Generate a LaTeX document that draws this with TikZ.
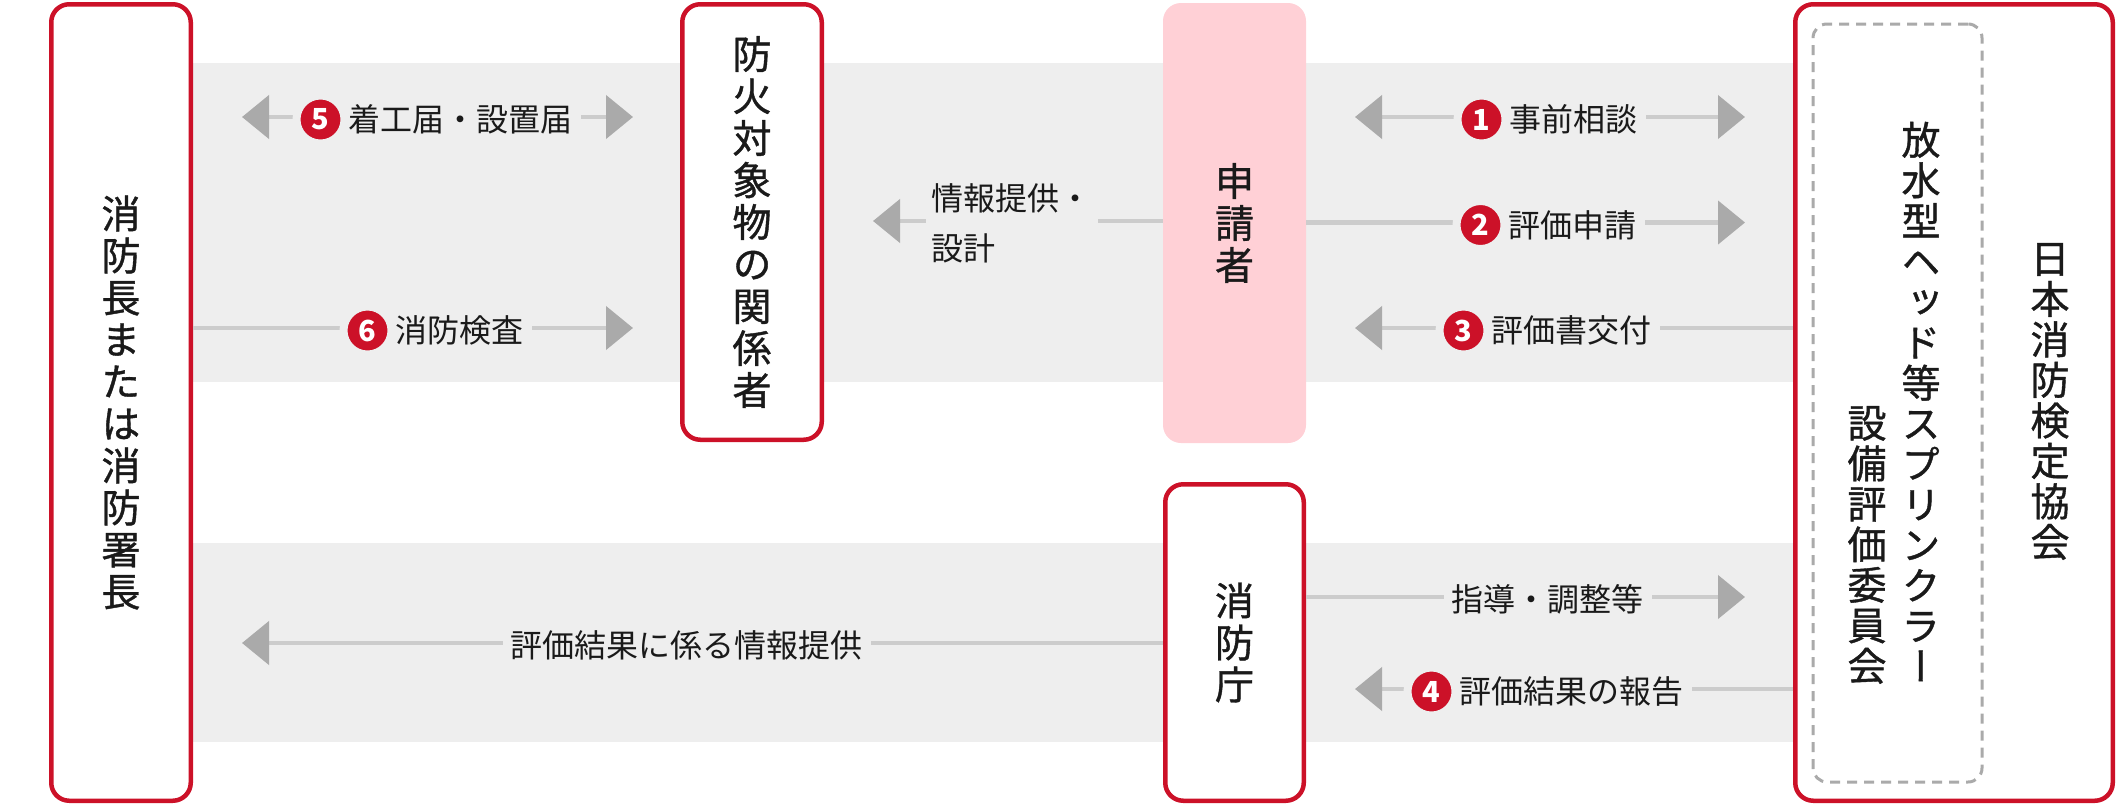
\documentclass[tikz,border=0pt]{standalone}
\usepackage{fontspec}
\setmainfont{Noto Sans CJK JP}
\newfontfamily\vjp[RawFeature=+vert, FakeBold=1]{Noto Sans CJK JP}
\usetikzlibrary{arrows.meta}
\definecolor{jred}{HTML}{CC1128}
\definecolor{jpink}{HTML}{FFD0D6}
\definecolor{band}{HTML}{EEEEEE}
\definecolor{linegray}{HTML}{CCCCCC}
\definecolor{headgray}{HTML}{AAAAAA}
\definecolor{txt}{HTML}{1A1A1A}
\tikzset{
  redbox/.style={draw=jred, line width=4.5pt, fill=white, rounded corners=18pt, inner sep=0pt},
  pinkbox/.style={fill=jpink, rounded corners=18pt, inner sep=0pt},
  dashbox/.style={draw=headgray, line width=3pt, dash pattern=on 10pt off 7pt, rounded corners=14pt, inner sep=0pt},
  vtext/.style={align=center, text=txt, font=\vjp\fontsize{39}{42}\selectfont},
  vtextr/.style={align=center, text=txt, inner sep=0pt, font=\vjp\fontsize{39}{40.5}\selectfont},
  conn/.style={draw=linegray, line width=4.5pt},
  lbl/.style={fill=band, inner xsep=8pt, inner ysep=3pt, text=txt, anchor=west, font=\fontsize{32}{38}\selectfont},
  num/.style={circle, fill=jred, draw=band, line width=8pt, minimum size=48pt, inner sep=0pt, text=white, font=\bfseries\fontsize{29}{29}\selectfont}
}
\begin{document}
\begin{tikzpicture}[x=1pt, y=-1pt, >={Triangle[length=27pt,width=43pt,color=headgray]}]
\useasboundingbox (0,0) rectangle (2116,806);
% bands
\fill[band] (193,62.7) rectangle (1793,382);
\fill[band] (193,542.7) rectangle (1793,742);
% boxes
\node[redbox, vtext, minimum width=139.5pt, minimum height=796.5pt] (chief) at (121,402.5)
  {消\\防\\長\\ま\\た\\は\\消\\防\\署\\長};
\node[redbox, vtext, minimum width=139.5pt, minimum height=435.5pt] (owner) at (752,222)
  {防\\火\\対\\象\\物\\の\\関\\係\\者};
\node[pinkbox, vtext, minimum width=143pt, minimum height=440pt] (shinsei) at (1234.5,223)
  {申\\請\\者};
\node[redbox, vtext, minimum width=138.5pt, minimum height=316.5pt] (fdma) at (1234.5,642.5)
  {消\\防\\庁};
\node[redbox, minimum width=317.5pt, minimum height=796.5pt] (jfe) at (1954,402.5) {};
\node[dashbox, minimum width=169pt, minimum height=758pt] (comm) at (1897.5,403) {};
\node[vtextr] (jfename) at (2050,401.5) {日\\本\\消\\防\\検\\定\\協\\会};
\node[vtextr] (comm1) at (1921,401.5) {放\\水\\型\\ヘ\\ッ\\ド\\等\\ス\\プ\\リ\\ン\\ク\\ラ\\ー};
\node[vtextr] (comm2) at (1867,545) {設\\備\\評\\価\\委\\員\\会};
% free ends
\coordinate (a1L) at (1355,117);
\coordinate (a1R) at (1745,117);
\coordinate (a2R) at (1745,222.5);
\coordinate (a3L) at (1355,328);
\coordinate (a4L) at (873,221);
\coordinate (a5L) at (242,117);
\coordinate (a5R) at (633,117);
\coordinate (a6R) at (633,328);
\coordinate (b1L) at (242,643);
\coordinate (b2R) at (1745,597);
\coordinate (b3L) at (1355,689);
% connectors
\draw[conn,<->] (a1L) -- (a1R);
\draw[conn,->] (shinsei.east |- a2R) -- (a2R);
\draw[conn,->] (jfe.west |- a3L) -- (a3L);
\draw[conn,->] (shinsei.west |- a4L) -- (a4L);
\draw[conn,<->] (a5L) -- (a5R);
\draw[conn,->] (chief.east |- a6R) -- (a6R);
\draw[conn,->] (fdma.west |- b1L) -- (b1L);
\draw[conn,->] (fdma.east |- b2R) -- (b2R);
\draw[conn,->] (jfe.west |- b3L) -- (b3L);
% labels
\node[lbl] (t1) at (1501.5,119.5) {事前相談};
\node[num] (n1) at ([xshift=-20pt]t1.west) {1};
\node[lbl] (t2) at (1500.5,225) {評価申請};
\node[num] (n2) at ([xshift=-20pt]t2.west) {2};
\node[lbl] (t3) at (1483.5,330.5) {評価書交付};
\node[num] (n3) at ([xshift=-20pt]t3.west) {3};
\node[lbl] (t4) at (1451.5,691.5) {評価結果の報告};
\node[num] (n4) at ([xshift=-20pt]t4.west) {4};
\node[lbl] (t5) at (340.5,119.5) {着工届・設置届};
\node[num] (n5) at ([xshift=-20pt]t5.west) {5};
\node[lbl] (t6) at (387.5,330.5) {消防検査};
\node[num] (n6) at ([xshift=-20pt]t6.west) {6};
\node[lbl] (t7) at (1443.5,599) {指導・調整等};
\node[lbl] (t8) at (502.5,645) {評価結果に係る情報提供};
\node[lbl, align=left, inner xsep=6pt, font=\fontsize{32}{50}\selectfont] (t9) at (925.5,223.5) {情報提供・\\設計};
\end{tikzpicture}
\end{document}
